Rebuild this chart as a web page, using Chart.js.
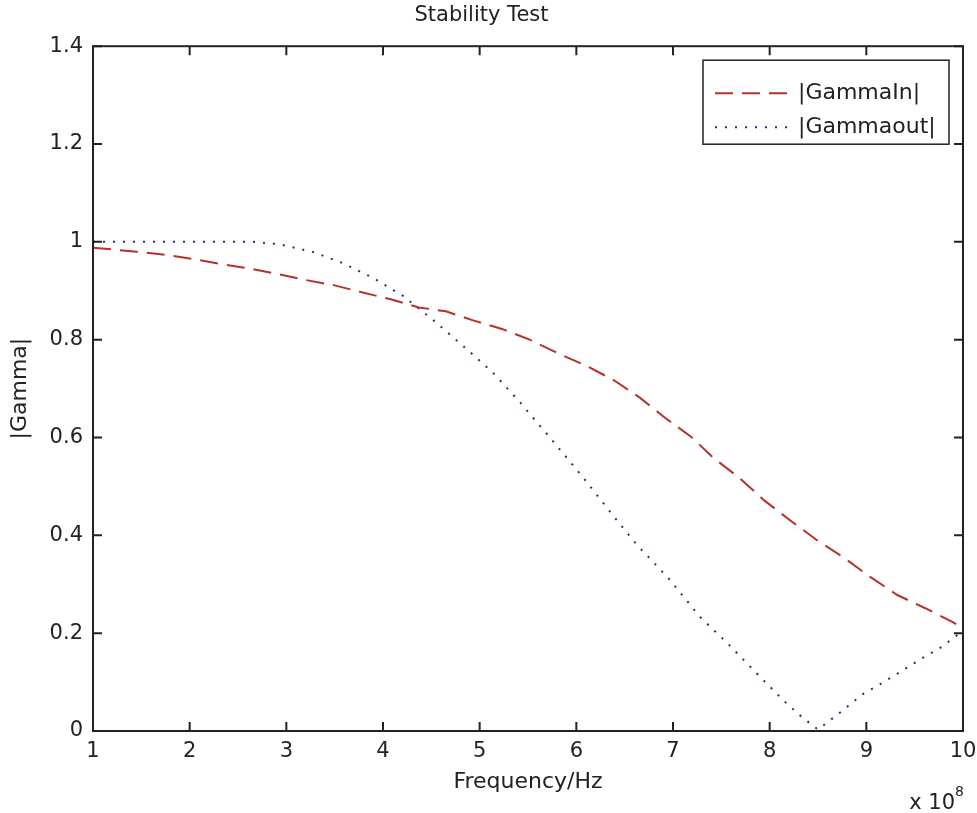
<!DOCTYPE html>
<html>
<head>
<meta charset="utf-8">
<script src="https://cdn.jsdelivr.net/npm/chart.js@4.4.0/dist/chart.umd.min.js"></script>
<style>
  html, body { margin: 0; padding: 0; background: #fff; }
  #wrap { width: 977px; height: 813px; position: relative; }
</style>
</head>
<body>
<div id="wrap"><canvas id="myChart"></canvas></div>
<script>
// frequency in units of 1e8 Hz
const freqIn = [1.0, 1.45, 1.76, 2.04, 2.34, 2.63, 2.92, 3.2, 3.5, 3.78, 4.07, 4.37, 4.65, 4.94, 5.23, 5.53, 5.81, 6.11, 6.39, 6.66, 6.92, 7.19, 7.42, 7.69, 7.94, 8.21, 8.49, 8.77, 9.04, 9.32, 9.61, 9.89, 10.0];
const gammaIn = [0.988, 0.98, 0.973, 0.965, 0.954, 0.945, 0.934, 0.922, 0.911, 0.897, 0.883, 0.866, 0.858, 0.839, 0.822, 0.799, 0.772, 0.746, 0.717, 0.681, 0.640, 0.601, 0.558, 0.517, 0.472, 0.431, 0.390, 0.354, 0.315, 0.278, 0.251, 0.223, 0.21];

const freqOut = [1.0, 1.5, 2.0, 2.5, 2.66, 2.93, 3.28, 3.59, 3.9, 4.21, 4.52, 4.83, 5.13, 5.4, 5.73, 6.06, 6.37, 6.62, 6.95, 7.28, 7.57, 7.86, 8.15, 8.33, 8.44, 8.5, 8.75, 8.96, 9.16, 9.37, 9.58, 9.78, 10.0];
const gammaOut = [1.0, 1.0, 1.0, 1.0, 1.0, 0.995, 0.979, 0.956, 0.926, 0.889, 0.840, 0.787, 0.734, 0.676, 0.599, 0.521, 0.443, 0.382, 0.313, 0.233, 0.178, 0.119, 0.061, 0.029, 0.012, 0.003, 0.041, 0.075, 0.098, 0.123, 0.149, 0.172, 0.205];

const seriesNames = ['|GammaIn|', '|Gammaout|'];
const xTicks = [1, 2, 3, 4, 5, 6, 7, 8, 9, 10];
const yTicks = [0, 0.2, 0.4, 0.6, 0.8, 1, 1.2, 1.4];

const FONT = 'DejaVu Sans';
const redCol = '#b8302a';
const blueCol = '#2a2a70';

const toPoints = (xs, ys) => xs.map((v, i) => ({x: v, y: ys[i]}));

const boxPlugin = {
    id: 'boxPlugin',
    afterDraw: (chart) => {
        const ctx = chart.ctx;
        const a = chart.chartArea;
        const sx = chart.scales.x;
        const sy = chart.scales.y;
        ctx.save();
        // axes box
        ctx.strokeStyle = '#222';
        ctx.lineWidth = 2;
        ctx.strokeRect(a.left, a.top, a.right - a.left, a.bottom - a.top);
        // inward ticks on all 4 sides
        const t = 9;
        ctx.beginPath();
        xTicks.forEach((v) => {
            const px = sx.getPixelForValue(v);
            ctx.moveTo(px, a.bottom); ctx.lineTo(px, a.bottom - t);
            ctx.moveTo(px, a.top); ctx.lineTo(px, a.top + t);
        });
        yTicks.forEach((v) => {
            const py = sy.getPixelForValue(v);
            ctx.moveTo(a.left, py); ctx.lineTo(a.left + t, py);
            ctx.moveTo(a.right, py); ctx.lineTo(a.right - t, py);
        });
        ctx.stroke();

        // legend
        const bx = a.right - 260, by = a.top + 14, bw = 246, bh = 84;
        ctx.fillStyle = '#fff';
        ctx.fillRect(bx, by, bw, bh);
        ctx.lineWidth = 1.5;
        ctx.strokeStyle = '#222';
        ctx.strokeRect(bx, by, bw, bh);
        const rows = [by + 33, by + 67];
        chart.data.datasets.forEach((ds, i) => {
            ctx.beginPath();
            ctx.strokeStyle = ds.borderColor;
            ctx.lineWidth = ds.borderWidth;
            ctx.setLineDash(ds.borderDash);
            ctx.moveTo(bx + 12, rows[i]);
            ctx.lineTo(bx + 90, rows[i]);
            ctx.stroke();
            ctx.setLineDash([]);
            ctx.fillStyle = '#222';
            ctx.font = '22px "' + FONT + '"';
            ctx.textBaseline = 'middle';
            ctx.textAlign = 'left';
            ctx.fillText(ds.label, bx + 95, rows[i]);
        });

        // x 10^8 multiplier
        ctx.fillStyle = '#222';
        ctx.textAlign = 'right';
        ctx.textBaseline = 'alphabetic';
        ctx.font = '21px "' + FONT + '"';
        ctx.fillText('x 10', a.right - 8, 809);
        ctx.textAlign = 'left';
        ctx.font = '14px "' + FONT + '"';
        ctx.fillText('8', a.right - 8, 796);
        ctx.restore();
    }
};

const ctx = document.getElementById('myChart').getContext('2d');
const myChart = new Chart(ctx, {
    type: 'line',
    data: {
        datasets: [{
            label: seriesNames[0],
            data: toPoints(freqIn, gammaIn),
            borderColor: redCol,
            borderWidth: 2,
            borderDash: [18, 9],
            pointRadius: 0,
            tension: 0,
            fill: false
        }, {
            label: seriesNames[1],
            data: toPoints(freqOut, gammaOut),
            borderColor: blueCol,
            borderWidth: 2,
            borderDash: [2, 8],
            pointRadius: 0,
            tension: 0,
            fill: false
        }]
    },
    options: {
        responsive: true,
        maintainAspectRatio: false,
        animation: false,
        layout: {
            padding: {left: 0, right: 14, top: 0, bottom: 0}
        },
        plugins: {
            legend: {
                display: false
            },
            tooltip: {
                enabled: false
            },
            title: {
                display: true,
                text: 'Stability Test',
                color: '#222',
                font: {family: FONT, size: 21, weight: 'normal'},
                padding: {top: 3, bottom: 18}
            }
        },
        scales: {
            x: {
                type: 'linear',
                min: 1,
                max: 10,
                grid: {display: false, drawTicks: false},
                border: {display: false},
                afterBuildTicks: (scale) => {
                    scale.ticks = xTicks.map((v) => ({value: v}));
                },
                ticks: {
                    color: '#222',
                    padding: 8,
                    autoSkip: false,
                    maxRotation: 0,
                    font: {family: FONT, size: 21},
                    callback: (v) => String(v)
                },
                title: {
                    display: true,
                    text: 'Frequency/Hz',
                    color: '#222',
                    font: {family: FONT, size: 22},
                    padding: {top: 0, bottom: 18}
                },
                afterFit: (scale) => {
                    scale.height = 82;
                    scale.paddingLeft = 0;
                    scale.paddingRight = 0;
                }
            },
            y: {
                min: 0,
                max: 1.4,
                grid: {display: false, drawTicks: false},
                border: {display: false},
                afterBuildTicks: (scale) => {
                    scale.ticks = yTicks.map((v) => ({value: v}));
                },
                ticks: {
                    color: '#222',
                    padding: 10,
                    autoSkip: false,
                    font: {family: FONT, size: 21},
                    callback: (v) => String(v)
                },
                title: {
                    display: true,
                    text: '|Gamma|',
                    color: '#222',
                    font: {family: FONT, size: 22},
                    padding: {top: 7, bottom: 0}
                },
                afterFit: (scale) => {
                    scale.width = 93;
                    scale.paddingTop = 0;
                    scale.paddingBottom = 0;
                }
            }
        }
    },
    plugins: [boxPlugin]
});
</script>
</body>
</html>
